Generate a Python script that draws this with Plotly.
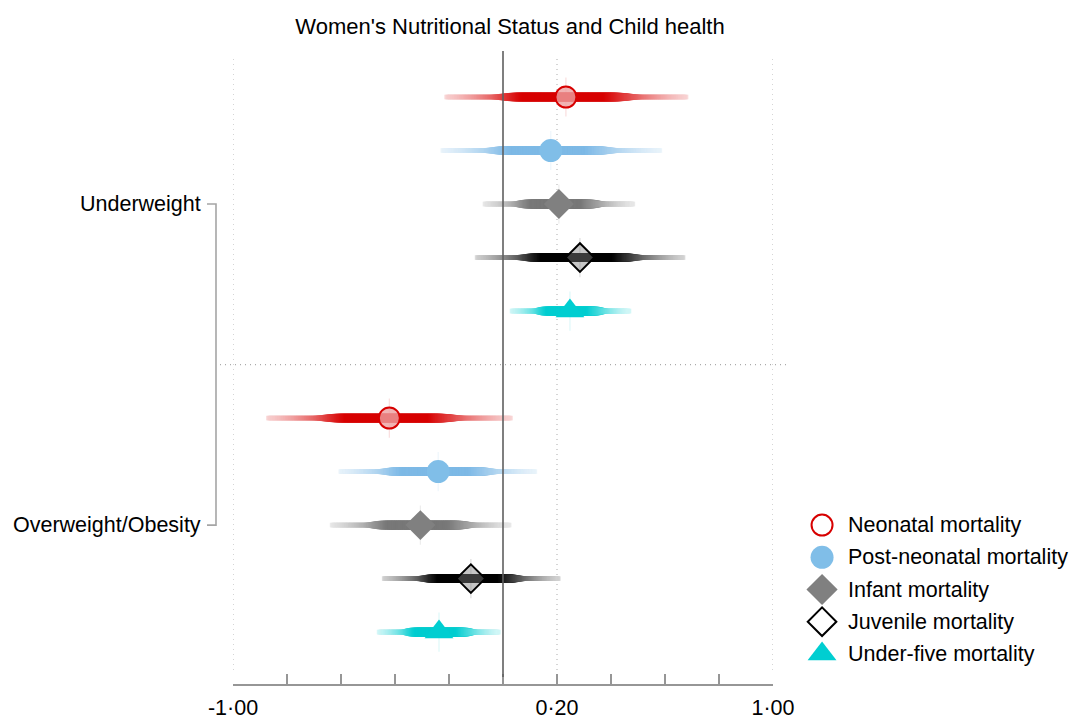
import numpy as np
import plotly.graph_objects as go

# ---------------- data ----------------
series_names = ["Neonatal mortality", "Post-neonatal mortality", "Infant mortality",
                "Juvenile mortality", "Under-five mortality"]
group_names = ["Underweight", "Overweight/Obesity"]

# Underweight: point estimate and confidence interval
uw_est = [0.233, 0.177, 0.207, 0.285, 0.248]
uw_lo = [-0.209, -0.223, -0.067, -0.096, 0.033]
uw_hi = [0.678, 0.581, 0.481, 0.667, 0.467]

# Overweight/Obesity
ow_est = [-0.421, -0.240, -0.306, -0.119, -0.237]
ow_lo = [-0.869, -0.601, -0.633, -0.440, -0.459]
ow_hi = [0.028, 0.118, 0.023, 0.205, -0.017]

x_tick_vals = [-1.0, -0.8, -0.6, -0.4, -0.2, 0.0, 0.2, 0.4, 0.6, 0.8, 1.0]
x_tick_text = ["-1·00", "", "", "", "", "", "0·20", "", "", "", "1·00"]
ref_lines = [-1.0, 0.2, 1.0]
null_line = 0.0

title_text = "Women's Nutritional Status and Child health"

# ---------------- styles ----------------
FONT = "Liberation Sans, Arial, Helvetica, sans-serif"
FS = 21.5
W, H = 1070, 720

band_rgb = [(215, 0, 0), (125, 185, 230), (120, 120, 120), (0, 0, 0), (0, 205, 208)]

point_style = [
    dict(symbol="circle", size=21, color="rgba(238,160,160,0.8)", line=dict(color="rgb(215,0,0)", width=2)),
    dict(symbol="circle", size=23, color="rgb(128,190,232)", line=dict(width=0)),
    dict(symbol="diamond", size=23, color="rgb(128,128,128)", line=dict(width=0)),
    dict(symbol="diamond", size=22, color="rgba(128,128,128,0.45)", line=dict(color="black", width=2)),
    dict(symbol="triangle-up", size=25, color="rgb(0,206,209)", line=dict(width=0)),
]
legend_style = [
    dict(symbol="circle", size=21, color="white", line=dict(color="rgb(215,0,0)", width=2)),
    dict(symbol="circle", size=23, color="rgb(128,190,232)", line=dict(width=0)),
    dict(symbol="diamond", size=24, color="rgb(128,128,128)", line=dict(width=0)),
    dict(symbol="diamond", size=22, color="white", line=dict(color="black", width=2)),
    dict(symbol="triangle-up", size=25, color="rgb(0,206,209)", line=dict(width=0)),
]


def blend(rgb, a):
    r, g, b = rgb
    return "rgb(%d,%d,%d)" % (round(255 - a * (255 - r)), round(255 - a * (255 - g)), round(255 - a * (255 - b)))


fig = go.Figure()

groups = [(uw_est, uw_lo, uw_hi), (ow_est, ow_lo, ow_hi)]
n_series = len(series_names)

for g, (est_l, lo_l, hi_l) in enumerate(groups):
    for i in range(n_series):
        row = g * (n_series + 1) + i
        est, lo, hi = est_l[i], lo_l[i], hi_l[i]
        # faint vertical tick at the estimate (behind the strip)
        fig.add_trace(go.Scatter(
            x=[est], y=[row], mode="markers",
            marker=dict(symbol="line-ns", size=28, line=dict(color=blend(band_rgb[i], 0.13), width=1.2)),
            hoverinfo="skip", showlegend=False))
        xs = np.linspace(lo, hi, 261)
        d = np.where(xs < est, (est - xs) / (est - lo), (xs - est) / (hi - est))
        a = np.clip(1.25 * np.exp(-(1.96 * d) ** 2 / 2), 0, 1)
        t = np.clip((0.64 - d) / 0.24, 0, 1)
        w = 4.6 + 4.0 * (t * t * (3 - 2 * t))
        cols = [blend(band_rgb[i], v) for v in a]
        # density strip for the confidence interval
        fig.add_trace(go.Scatter(
            x=xs, y=[row] * len(xs), mode="markers",
            marker=dict(symbol="square", size=w, color=cols, line=dict(width=0)),
            hoverinfo="skip", showlegend=False))
        # point estimate
        fig.add_trace(go.Scatter(
            x=[est], y=[row], mode="markers", marker=point_style[i],
            name=series_names[i], showlegend=False, cliponaxis=False))

# ---------------- manual legend (separate axes) ----------------
for i in range(n_series):
    fig.add_trace(go.Scatter(
        x=[0.145], y=[i], xaxis="x2", yaxis="y2", mode="markers",
        marker=legend_style[i], showlegend=False, hoverinfo="skip", cliponaxis=False))

annotations = []
for i, name in enumerate(series_names):
    annotations.append(dict(
        x=0.226, y=i, xref="x2", yref="y2", text=name, showarrow=False,
        xanchor="left", yanchor="middle", font=dict(family=FONT, size=FS, color="black")))

for g, gname in enumerate(group_names):
    annotations.append(dict(
        x=203 / W, y=g * (n_series + 1) + 2, xref="paper", yref="y", text=gname, showarrow=False,
        xanchor="right", yanchor="middle", font=dict(family=FONT, size=FS, color="black")))

shapes = []
for v in ref_lines:
    shapes.append(dict(type="line", xref="x", yref="paper", x0=v, x1=v,
                       y0=1 - 670 / H, y1=1 - 56 / H, layer="below",
                       line=dict(color="rgb(185,185,185)", width=1.2, dash="1px,4px")))
shapes.append(dict(type="line", xref="x", yref="paper", x0=null_line, x1=null_line,
                   y0=1 - 677 / H, y1=1 - 51 / H, layer="above",
                   line=dict(color="rgb(95,95,95)", width=1.6)))
# separator between groups
sep_row = n_series
shapes.append(dict(type="line", xref="paper", yref="y", x0=220 / W, x1=790 / W,
                   y0=sep_row, y1=sep_row, layer="below",
                   line=dict(color="rgb(170,170,170)", width=1.2, dash="1px,4px")))
# bracket joining group labels
top_r, bot_r = 2, (n_series + 1) + 2
shapes.append(dict(type="path", xref="paper", yref="y",
                   path="M %f,%f L %f,%f L %f,%f L %f,%f" % (
                       207 / W, top_r, 216 / W, top_r, 216 / W, bot_r, 207 / W, bot_r),
                   line=dict(color="rgb(165,165,165)", width=1.6)))

fig.update_layout(
    width=W, height=H, autosize=False,
    margin=dict(l=0, r=0, t=0, b=0),
    paper_bgcolor="white", plot_bgcolor="white",
    showlegend=False,
    font=dict(family=FONT, size=FS, color="black"),
    title=dict(text=title_text, x=510 / W, xanchor="center", xref="container",
               y=1 - 26 / H, yanchor="middle", yref="container",
               font=dict(family=FONT, size=22, color="black")),
    xaxis=dict(domain=[233 / W, 773 / W], range=[-1, 1], showgrid=False, zeroline=False,
               showline=True, linecolor="rgb(150,150,150)", linewidth=1.6,
               ticks="inside", ticklen=10, tickwidth=1.6, tickcolor="rgb(150,150,150)",
               tickvals=x_tick_vals, ticktext=x_tick_text, ticklabelstandoff=3,
               tickfont=dict(family=FONT, size=FS, color="black"), automargin=False,
               fixedrange=True),
    yaxis=dict(domain=[1 - 684 / H, 1 - 51 / H], range=[10.97, -0.86], showgrid=False,
               zeroline=False, showline=False, showticklabels=False, ticks="",
               automargin=False, fixedrange=True),
    xaxis2=dict(domain=[780 / W, 1.0], range=[0, 1], visible=False, anchor="y2", fixedrange=True),
    yaxis2=dict(domain=[1 - 670 / H, 1 - 509 / H], range=[4.5, -0.5], visible=False,
                anchor="x2", fixedrange=True),
    annotations=annotations,
    shapes=shapes,
)

fig.write_html("out.html", config={"displayModeBar": False},
               post_script="document.body.style.margin='0px';document.body.style.overflow='hidden';")
